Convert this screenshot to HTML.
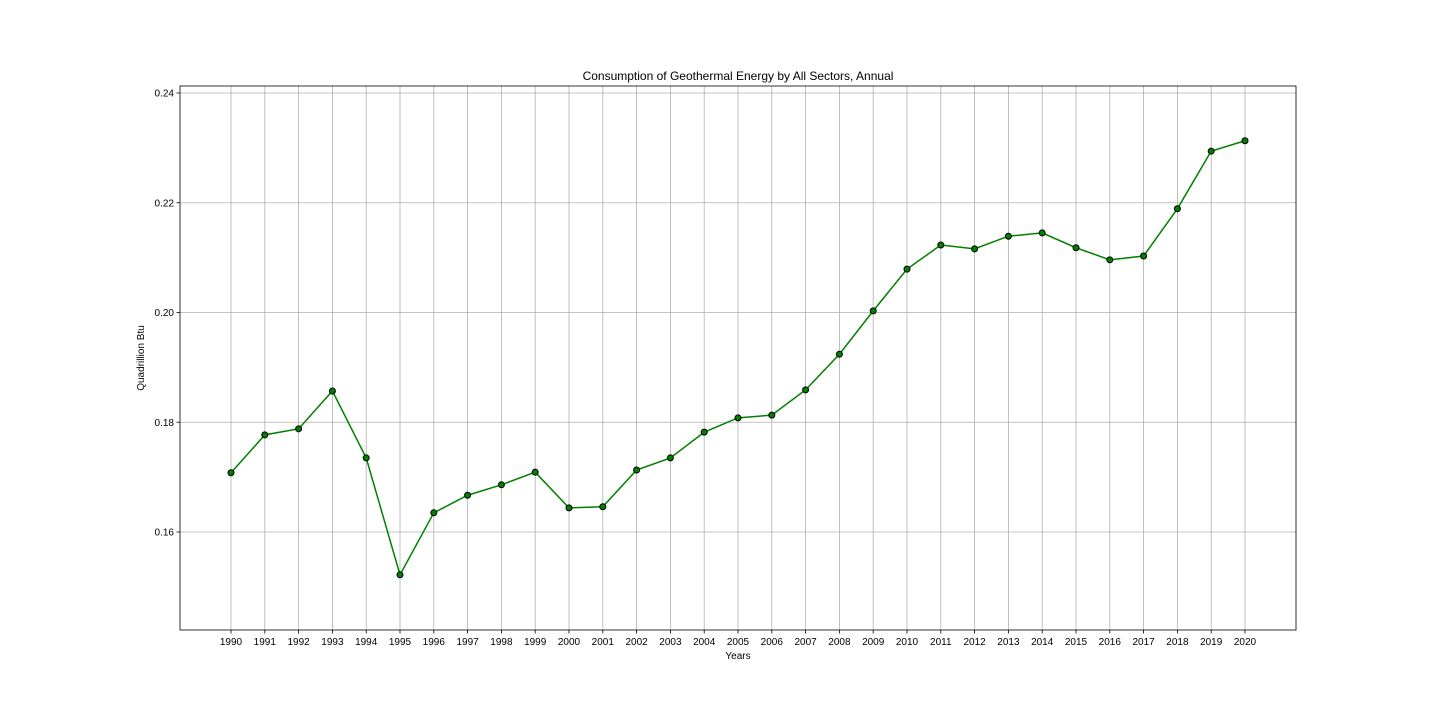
<!DOCTYPE html>
<html><head><meta charset="utf-8"><style>
html,body{margin:0;padding:0;background:#fff;}
svg{display:block;font-family:"Liberation Sans","DejaVu Sans",sans-serif;}
</style></head><body>
<svg id="chart" width="1440" height="720">
<rect x="0" y="0" width="1440" height="720" fill="#fff"/>
<g id="grid"></g>
<g id="axes"></g>
<g id="series"></g>
<text x="738" y="80" text-anchor="middle" font-size="12">Consumption of Geothermal Energy by All Sectors, Annual</text>
<text x="738" y="659" text-anchor="middle" font-size="10">Years</text>
<text x="144" y="358" text-anchor="middle" font-size="10" transform="rotate(-90 144 358)">Quadrillion Btu</text>
</svg>
<script>
const years = [1990,1991,1992,1993,1994,1995,1996,1997,1998,1999,2000,2001,2002,2003,2004,2005,2006,2007,2008,2009,2010,2011,2012,2013,2014,2015,2016,2017,2018,2019,2020];
const values = [0.1708,0.1777,0.1788,0.1857,0.1735,0.1522,0.1635,0.1667,0.1686,0.1709,0.1644,0.1646,0.1713,0.1735,0.1782,0.1808,0.1813,0.1859,0.1924,0.2003,0.2079,0.2123,0.2116,0.2139,0.2145,0.2118,0.2096,0.2103,0.2189,0.2294,0.2313];
const yTicks = [0.16,0.18,0.20,0.22,0.24];
const yTickLabels = ["0.16","0.18","0.20","0.22","0.24"];

const NS="http://www.w3.org/2000/svg";
const L=180,R=1296,T=86,B=630;
function xs(y){return 231+(y-1990)*(1245-231)/30;}
function ys(v){return 93+(0.24-v)*(532-93)/0.08;}
function mk(tag,attrs,parent){const e=document.createElementNS(NS,tag);for(const k in attrs)e.setAttribute(k,attrs[k]);parent.appendChild(e);return e;}
const grid=document.getElementById('grid'),axes=document.getElementById('axes'),series=document.getElementById('series');
years.forEach(y=>{
  const g=mk('line',{x1:xs(y),x2:xs(y),y1:T,y2:B,stroke:'#b0b0b0','stroke-width':0.8},grid);
  
  
  const t=mk('line',{x1:xs(y),x2:xs(y),y1:B,y2:B+3.5,stroke:'#000','stroke-width':0.8},axes);
  
  
  const lb=mk('text',{x:xs(y),y:B+15,'text-anchor':'middle','font-size':10},axes);
  lb.textContent=y;
  
  
});
yTicks.forEach((v,i)=>{
  const g=mk('line',{x1:L,x2:R,y1:ys(v),y2:ys(v),stroke:'#b0b0b0','stroke-width':0.8},grid);
  
  
  const t=mk('line',{x1:L-3.5,x2:L,y1:ys(v),y2:ys(v),stroke:'#000','stroke-width':0.8},axes);
  
  
  const lb=mk('text',{x:L-6,y:ys(v)+3.5,'text-anchor':'end','font-size':10},axes);
  lb.textContent=yTickLabels[i];
  
  
});
const frame=mk('rect',{x:L,y:T,width:R-L,height:B-T,fill:'none',stroke:'#000','stroke-width':0.8},axes);


const pl=mk('polyline',{points:years.map((y,i)=>xs(y)+','+ys(values[i])).join(' '),fill:'none',stroke:'#008000','stroke-width':1.5},series);


years.forEach((y,i)=>{
  const c=mk('circle',{cx:xs(y),cy:ys(values[i]),r:3,fill:'#008000',stroke:'#000','stroke-width':1},series);
  
  
});
</script>
</body></html>
